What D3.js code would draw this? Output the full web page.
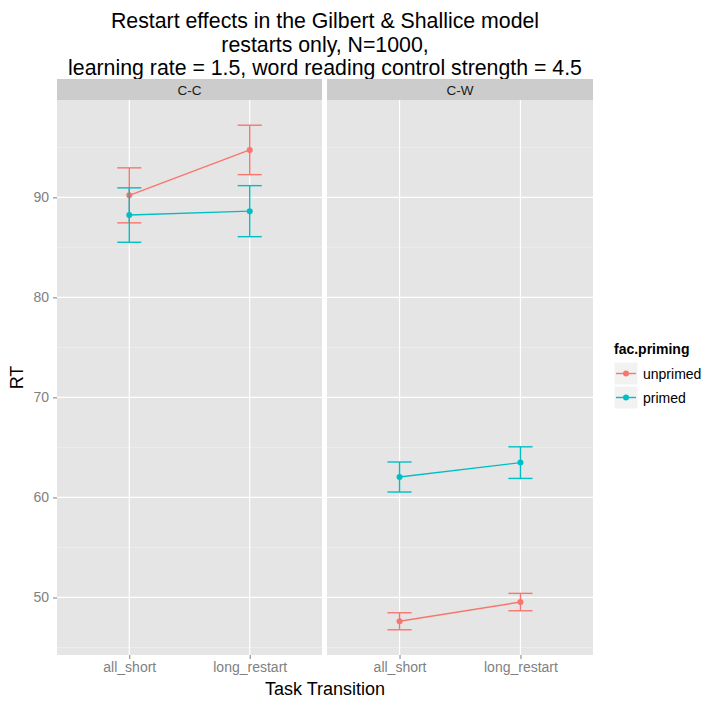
<!DOCTYPE html>
<html>
<head>
<meta charset="utf-8">
<script src="https://cdn.jsdelivr.net/npm/d3@7"></script>
<style>
  body { margin: 0; background: #fff; }
  text { font-family: "Liberation Sans", Arial, Helvetica, sans-serif; }
</style>
</head>
<body>
<div id="chart"></div>
<script>
// data
const facets = ['C-C', 'C-W'];
const transitions = ['all_short', 'long_restart'];
const primingLevels = ['unprimed', 'primed'];
// mean RT per facet, per transition
const unprimedMean = [[90.2, 94.74], [47.62, 49.54]];
const unprimedErr = [[2.75, 2.47], [0.85, 0.87]];
const primedMean = [[88.23, 88.62], [62.04, 63.48]];
const primedErr = [[2.72, 2.55], [1.5, 1.58]];
const yTicks = [50, 60, 70, 80, 90];
const yMinor = [45, 55, 65, 75, 85, 95];

const colors = { unprimed: '#F8766D', primed: '#00BFC4' };
const width = 705;
const height = 702;

const panels = [
  { x0: 57, x1: 322 },
  { x0: 327, x1: 593 },
];
const stripTop = 79;
const panelTop = 100;
const panelBottom = 655;
const tickFont = '14px';

// build rows
const rows = [];
facets.forEach((f, fi) => {
  transitions.forEach((t, ti) => {
    rows.push({ facet: f, fi, transition: t, priming: 'unprimed', mean: unprimedMean[fi][ti], err: unprimedErr[fi][ti] });
    rows.push({ facet: f, fi, transition: t, priming: 'primed', mean: primedMean[fi][ti], err: primedErr[fi][ti] });
  });
});

// ggplot style 5% expansion
const lo = d3.min(rows, d => d.mean - d.err);
const hi = d3.max(rows, d => d.mean + d.err);
const pad = (hi - lo) * 0.05;
const y = d3.scaleLinear().domain([lo - pad, hi + pad]).range([panelBottom, panelTop]);

const svg = d3.select('#chart').append('svg')
  .attr('width', width)
  .attr('height', height);

// title
const titleLines = [
  'Restart effects in the Gilbert & Shallice model',
  'restarts only, N=1000,',
  'learning rate = 1.5, word reading control strength = 4.5',
];
svg.append('g').selectAll('text')
  .data(titleLines)
  .enter()
  .append('text')
  .attr('x', 325)
  .attr('y', (d, i) => 28 + i * 23.5)
  .attr('text-anchor', 'middle')
  .style('font-size', '21.3px')
  .attr('fill', '#000')
  .text(d => d);

panels.forEach((p, pi) => {
  const x = d3.scalePoint().domain(transitions).range([p.x0, p.x1]).padding(0.6);
  const bw = x.step() * 0.2;
  const g = svg.append('g');

  // strip
  g.append('rect')
    .attr('x', p.x0).attr('y', stripTop)
    .attr('width', p.x1 - p.x0).attr('height', panelTop - stripTop)
    .attr('fill', '#cccccc');
  g.append('text')
    .attr('x', (p.x0 + p.x1) / 2).attr('y', 95)
    .attr('text-anchor', 'middle')
    .style('font-size', '13.5px')
    .attr('fill', '#1a1a1a')
    .text(facets[pi]);

  // panel
  g.append('rect')
    .attr('x', p.x0).attr('y', panelTop)
    .attr('width', p.x1 - p.x0).attr('height', panelBottom - panelTop)
    .attr('fill', '#e5e5e5');

  g.selectAll('line.minor')
    .data(yMinor)
    .enter()
    .append('line')
    .attr('x1', p.x0).attr('x2', p.x1)
    .attr('y1', d => y(d)).attr('y2', d => y(d))
    .attr('stroke', '#f2f2f2')
    .attr('stroke-width', 0.6);

  g.selectAll('line.major')
    .data(yTicks)
    .enter()
    .append('line')
    .attr('x1', p.x0).attr('x2', p.x1)
    .attr('y1', d => y(d)).attr('y2', d => y(d))
    .attr('stroke', '#fff')
    .attr('stroke-width', 1.2);

  g.selectAll('line.vmajor')
    .data(transitions)
    .enter()
    .append('line')
    .attr('x1', d => x(d)).attr('x2', d => x(d))
    .attr('y1', panelTop).attr('y2', panelBottom)
    .attr('stroke', '#fff')
    .attr('stroke-width', 1.2);

  // x axis
  const xG = g.append('g')
    .attr('transform', `translate(0, ${panelBottom})`)
    .call(d3.axisBottom(x).tickSize(4).tickPadding(3));
  xG.select('.domain').remove();
  xG.selectAll('line').attr('stroke', '#7f7f7f');
  xG.selectAll('text')
    .style('font-size', tickFont)
    .attr('fill', '#7f7f7f')
    .attr('font-family', null);

  // y axis on the first panel only
  if (pi === 0) {
    const yG = g.append('g')
      .attr('transform', `translate(${p.x0}, 0)`)
      .call(d3.axisLeft(y).tickValues(yTicks).tickSize(4).tickPadding(4));
    yG.select('.domain').remove();
    yG.selectAll('line').attr('stroke', '#7f7f7f');
    yG.selectAll('text')
      .style('font-size', tickFont)
      .attr('fill', '#7f7f7f')
      .attr('font-family', null);
  }

  const pRows = rows.filter(d => d.fi === pi);
  const line = d3.line().x(d => x(d.transition)).y(d => y(d.mean));

  primingLevels.forEach(level => {
    const sub = pRows.filter(d => d.priming === level);
    const c = colors[level];
    const eb = g.append('g').selectAll('g')
      .data(sub)
      .enter()
      .append('g');
    eb.append('line')
      .attr('x1', d => x(d.transition)).attr('x2', d => x(d.transition))
      .attr('y1', d => y(d.mean - d.err)).attr('y2', d => y(d.mean + d.err))
      .attr('stroke', c).attr('stroke-width', 1.4);
    eb.append('line')
      .attr('x1', d => x(d.transition) - bw / 2).attr('x2', d => x(d.transition) + bw / 2)
      .attr('y1', d => y(d.mean + d.err)).attr('y2', d => y(d.mean + d.err))
      .attr('stroke', c).attr('stroke-width', 1.4);
    eb.append('line')
      .attr('x1', d => x(d.transition) - bw / 2).attr('x2', d => x(d.transition) + bw / 2)
      .attr('y1', d => y(d.mean - d.err)).attr('y2', d => y(d.mean - d.err))
      .attr('stroke', c).attr('stroke-width', 1.4);

    g.append('path')
      .datum(sub)
      .attr('d', line)
      .attr('fill', 'none')
      .attr('stroke', c)
      .attr('stroke-width', 1.4);

    g.append('g').selectAll('circle')
      .data(sub)
      .enter()
      .append('circle')
      .attr('cx', d => x(d.transition))
      .attr('cy', d => y(d.mean))
      .attr('r', 3)
      .attr('fill', c);
  });
});

// axis titles
svg.append('text')
  .attr('x', 325).attr('y', 695)
  .attr('text-anchor', 'middle')
  .style('font-size', '18px')
  .attr('fill', '#000')
  .text('Task Transition');

svg.append('text')
  .attr('transform', `translate(23, ${(panelTop + panelBottom) / 2}) rotate(-90)`)
  .attr('text-anchor', 'middle')
  .style('font-size', '18px')
  .attr('fill', '#000')
  .text('RT');

// legend
const legend = svg.append('g').attr('transform', 'translate(614, 0)');
legend.append('text')
  .attr('x', 0).attr('y', 354)
  .style('font-size', '14px')
  .style('font-weight', 'bold')
  .attr('fill', '#000')
  .text('fac.priming');

const keys = legend.selectAll('g.key')
  .data(primingLevels)
  .enter()
  .append('g')
  .attr('transform', (d, i) => `translate(0, ${362 + i * 24})`);
keys.append('rect')
  .attr('width', 24).attr('height', 23)
  .attr('fill', '#f2f2f2')
  .attr('stroke', '#fff')
  .attr('stroke-width', 1);
keys.append('line')
  .attr('x1', 2).attr('x2', 22)
  .attr('y1', 11.5).attr('y2', 11.5)
  .attr('stroke', d => colors[d])
  .attr('stroke-width', 1.4);
keys.append('circle')
  .attr('cx', 12).attr('cy', 11.5).attr('r', 3)
  .attr('fill', d => colors[d]);
keys.append('text')
  .attr('x', 29).attr('y', 16.5)
  .style('font-size', '14px')
  .attr('fill', '#000')
  .text(d => d);
</script>
</body>
</html>
